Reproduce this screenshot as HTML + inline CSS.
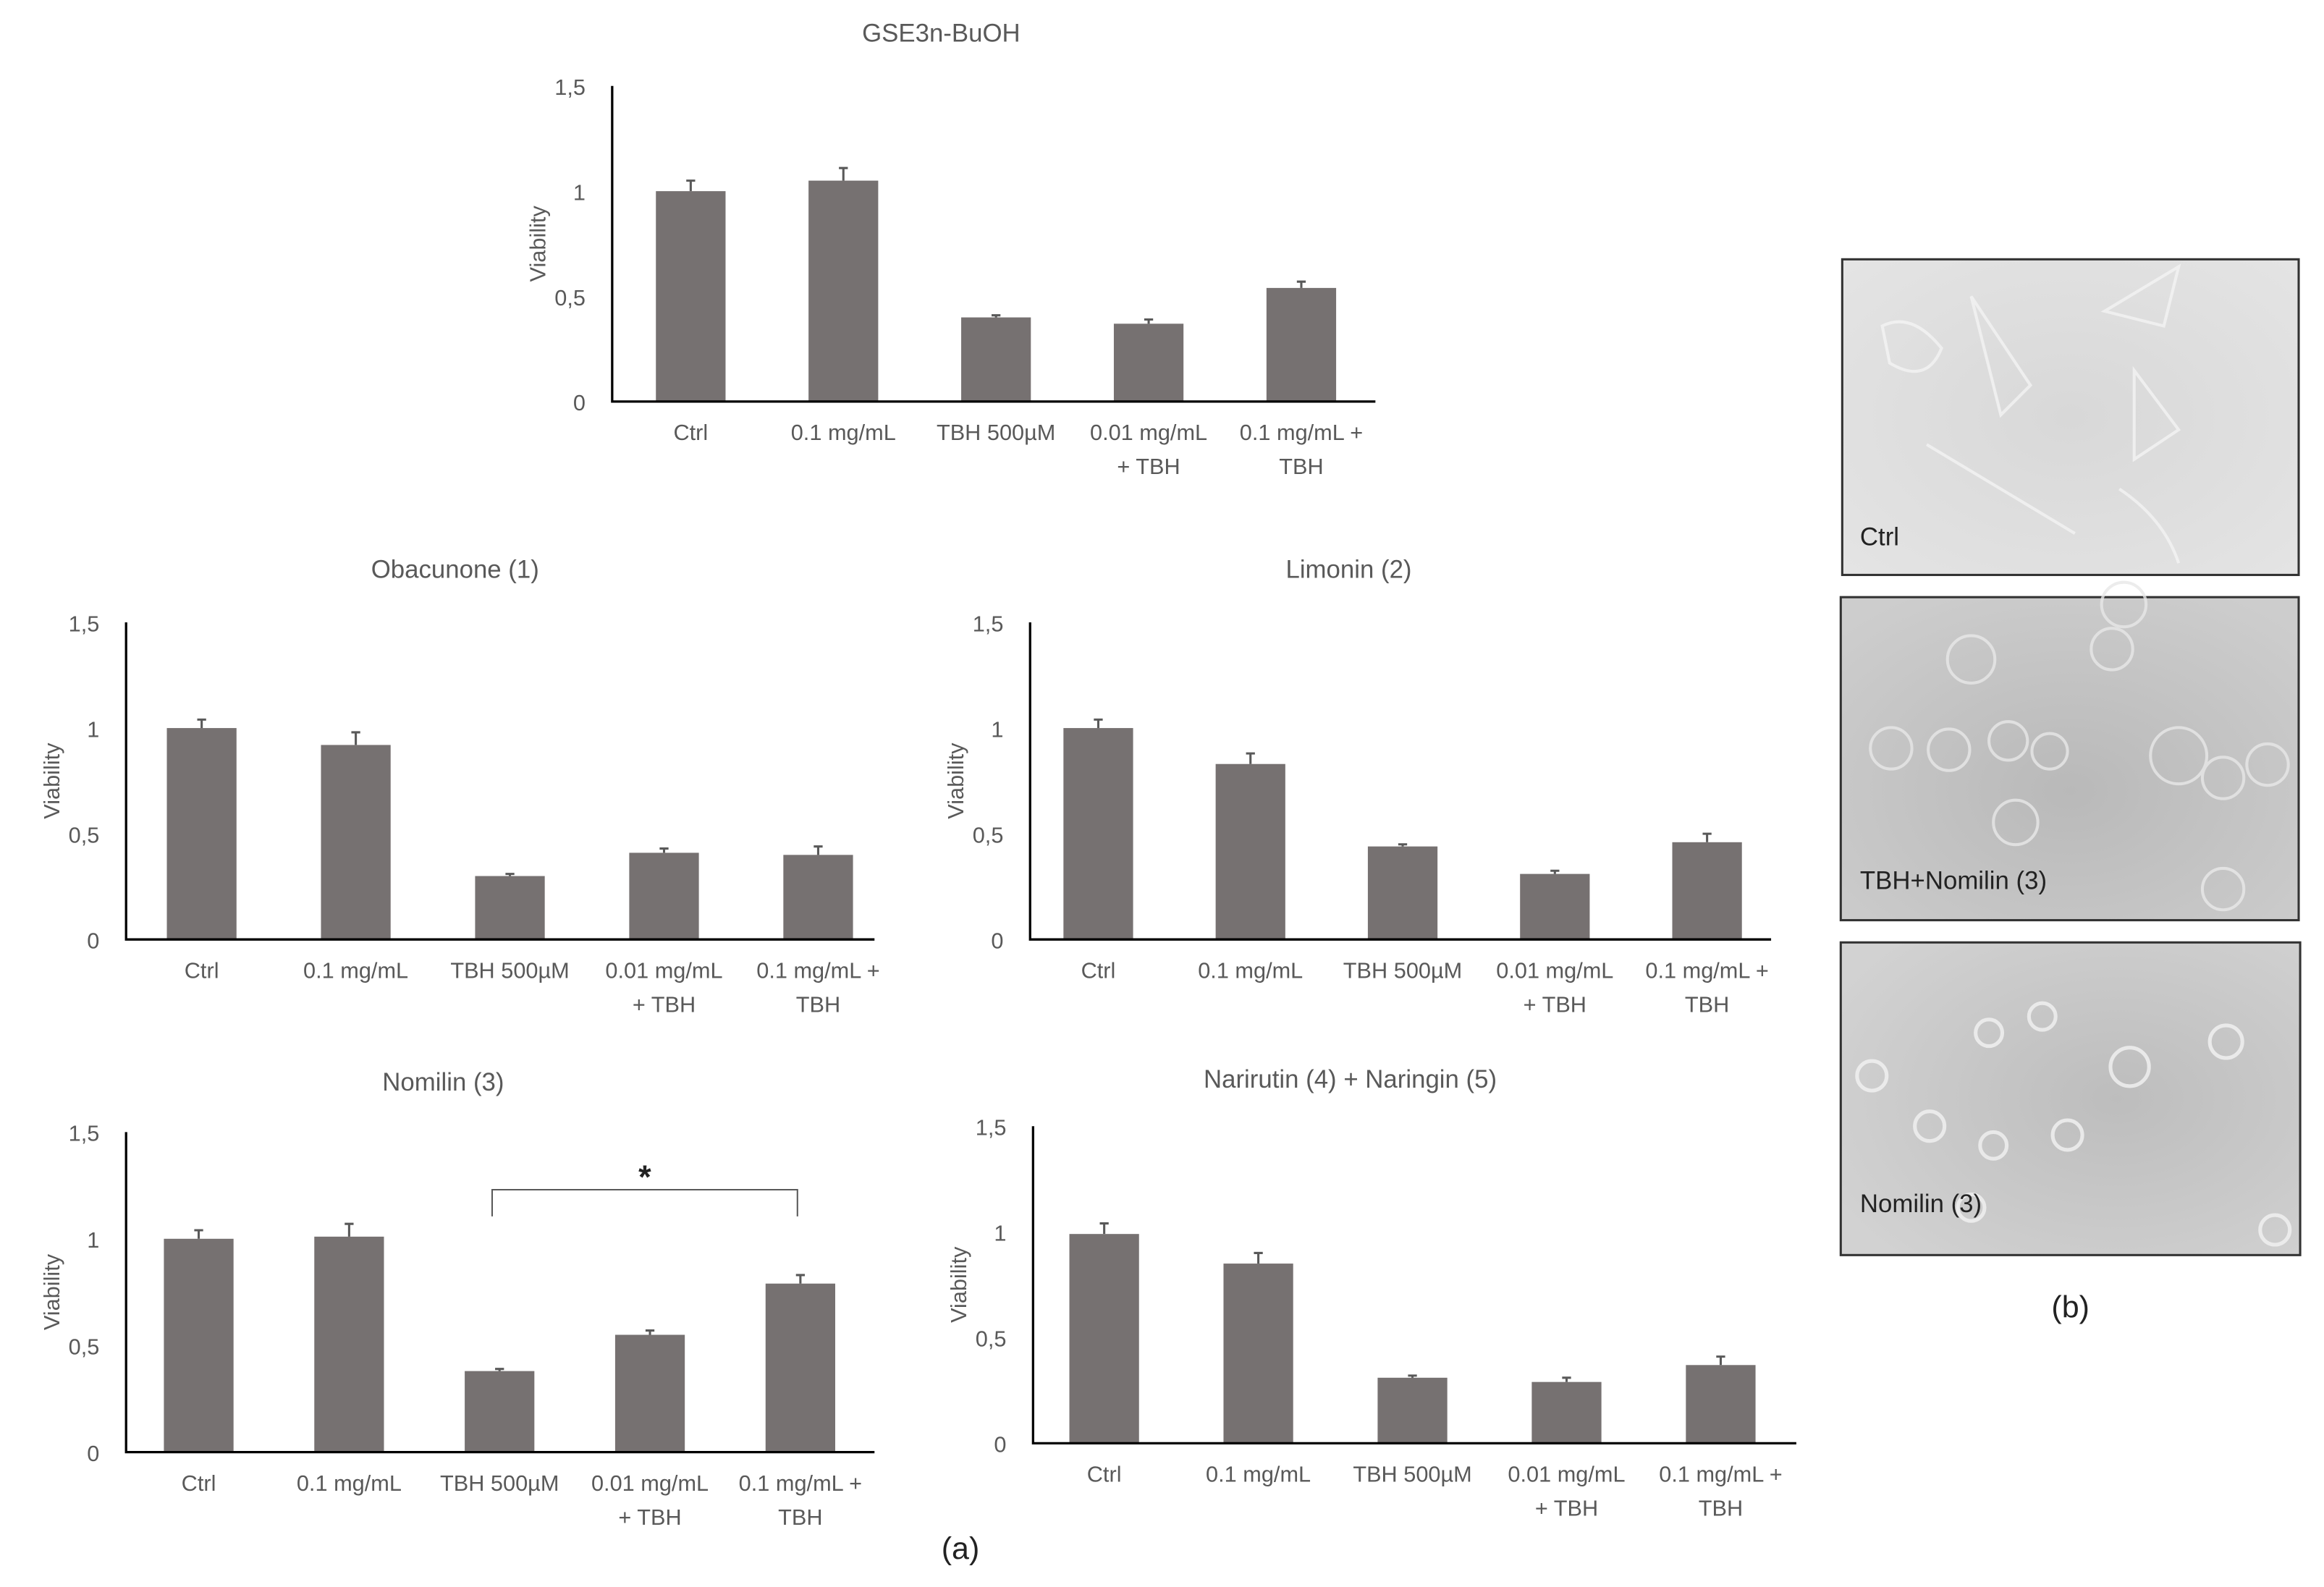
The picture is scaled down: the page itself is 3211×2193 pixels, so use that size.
<!DOCTYPE html>
<html><head><meta charset="utf-8">
<style>
html,body{margin:0;padding:0;background:#fff;}
svg{display:block;}
text{font-family:"Liberation Sans",sans-serif;}
</style></head>
<body>
<svg id="fig" width="3211" height="2193" viewBox="0 0 1568 1071" xmlns="http://www.w3.org/2000/svg">
  <defs>
    <radialGradient id="g1" cx="0.5" cy="0.5" r="0.7"><stop offset="0" stop-color="#d8d8d8"/><stop offset="1" stop-color="#e4e4e4"/></radialGradient>
    <radialGradient id="g2" cx="0.5" cy="0.6" r="0.7"><stop offset="0" stop-color="#b9b9b9"/><stop offset="1" stop-color="#cdcdcd"/></radialGradient>
    <radialGradient id="g3" cx="0.6" cy="0.5" r="0.7"><stop offset="0" stop-color="#bdbdbd"/><stop offset="1" stop-color="#d2d2d2"/></radialGradient>
  </defs>
  <g id="charts"></g>
  <text x="648" y="1052" text-anchor="middle" font-size="21" fill="#222">(a)</text>
  <g>
    <rect x="1243" y="175" width="308" height="213" fill="url(#g1)" stroke="#333" stroke-width="1.5"/>
    <g fill="none" stroke="#f4f4f4" stroke-width="2" opacity="0.8">
      <path d="M1270 220 q20 -10 40 15 q-10 25 -35 10z"/><path d="M1330 200 l40 60 l-20 20z"/>
      <path d="M1420 210 l50 -30 l-10 40z"/><path d="M1300 300 l100 60"/><path d="M1440 250 l30 40 l-30 20z"/>
      <path d="M1430 330 q30 20 40 50"/>
    </g>
    <text x="1255" y="368" font-size="17" fill="#222">Ctrl</text>
  </g>
  <g>
    <rect x="1242" y="403" width="309" height="218" fill="url(#g2)" stroke="#333" stroke-width="1.5"/>
    <g fill="none" stroke="#e8e8e8" stroke-width="2" opacity="0.8">
      <circle cx="1276" cy="505" r="14"/><circle cx="1315" cy="506" r="14"/><circle cx="1355" cy="500" r="13"/><circle cx="1383" cy="507" r="12"/>
      <circle cx="1330" cy="445" r="16"/><circle cx="1425" cy="438" r="14"/><circle cx="1470" cy="510" r="19"/><circle cx="1500" cy="525" r="14"/>
      <circle cx="1360" cy="555" r="15"/><circle cx="1530" cy="516" r="14"/><circle cx="1500" cy="600" r="14"/><circle cx="1433" cy="408" r="15"/>
    </g>
    <text x="1255" y="600" font-size="17" fill="#222">TBH+Nomilin (3)</text>
  </g>
  <g>
    <rect x="1242" y="636" width="310" height="211" fill="url(#g3)" stroke="#333" stroke-width="1.5"/>
    <g fill="none" stroke="#f0f0f0" stroke-width="2.5" opacity="0.85">
      <circle cx="1342" cy="697" r="9"/><circle cx="1378" cy="686" r="9"/><circle cx="1263" cy="726" r="10"/><circle cx="1345" cy="773" r="9"/>
      <circle cx="1437" cy="720" r="13"/><circle cx="1502" cy="703" r="11"/><circle cx="1302" cy="760" r="10"/><circle cx="1395" cy="766" r="10"/>
      <circle cx="1330" cy="815" r="9"/><circle cx="1535" cy="830" r="10"/>
    </g>
    <text x="1255" y="818" font-size="17" fill="#222">Nomilin (3)</text>
  </g>
  <text x="1397" y="889" text-anchor="middle" font-size="21" fill="#222">(b)</text>
</svg>
<script>
const categories = [["Ctrl"],["0.1 mg/mL"],["TBH 500µM"],["0.01 mg/mL","+ TBH"],["0.1 mg/mL +","TBH"]];
const yTicks = [0, 0.5, 1, 1.5];
const yTickLabels = ["0","0,5","1","1,5"];
const gseValues = [1.00, 1.05, 0.40, 0.37, 0.54];
const gseErrors = [0.05, 0.06, 0.01, 0.02, 0.03];
const obacunoneValues = [1.00, 0.92, 0.30, 0.41, 0.40];
const obacunoneErrors = [0.04, 0.06, 0.01, 0.02, 0.04];
const limoninValues = [1.00, 0.83, 0.44, 0.31, 0.46];
const limoninErrors = [0.04, 0.05, 0.01, 0.015, 0.04];
const nomilinValues = [1.00, 1.01, 0.38, 0.55, 0.79];
const nomilinErrors = [0.04, 0.06, 0.01, 0.02, 0.04];
const narirutinValues = [0.99, 0.85, 0.31, 0.29, 0.37];
const narirutinErrors = [0.05, 0.05, 0.01, 0.02, 0.04];

const NS = "http://www.w3.org/2000/svg";
const root = document.getElementById("charts");
function mk(tag, attrs, parent){const e=document.createElementNS(NS,tag);for(const k in attrs)e.setAttribute(k,attrs[k]);parent.appendChild(e);return e;}

const layouts = [
  {name:"gse3n-buoh", title:"GSE3n-BuOH", tx:635, ty:28, x0:413, x1:928, yTop:58, yZero:271, c0:466, step:103, vals:gseValues, errs:gseErrors},
  {name:"obacunone", title:"Obacunone (1)", tx:307, ty:390, x0:85, x1:590, yTop:420, yZero:634, c0:136, step:104, vals:obacunoneValues, errs:obacunoneErrors},
  {name:"limonin", title:"Limonin (2)", tx:910, ty:390, x0:695, x1:1195, yTop:420, yZero:634, c0:741, step:102.7, vals:limoninValues, errs:limoninErrors},
  {name:"nomilin", title:"Nomilin (3)", tx:299, ty:736, x0:85, x1:590, yTop:764, yZero:980, c0:134, step:101.5, vals:nomilinValues, errs:nomilinErrors, sig:[2,4]},
  {name:"narirutin-naringin", title:"Narirutin (4) + Naringin (5)", tx:911, ty:734, x0:697, x1:1212, yTop:760, yZero:974, c0:745, step:104, vals:narirutinValues, errs:narirutinErrors}
];

layouts.forEach(L=>{
  const g = mk("g",{},root);
  
  
  const y = v => L.yZero - v/1.5*(L.yZero-L.yTop);
  const x = i => L.c0 + i*L.step;
  const t = mk("text",{x:L.tx,y:L.ty,"text-anchor":"middle","font-size":17,fill:"#595959"},g);
  t.textContent = L.title;
  
  
  yTicks.forEach((v,i)=>{
    const tl = mk("text",{x:L.x0-18,y:y(v)+6,"text-anchor":"end","font-size":15,fill:"#595959"},g);
    tl.textContent = yTickLabels[i];
    
    
  });
  const yl = mk("text",{x:0,y:0,"text-anchor":"middle","font-size":15,fill:"#595959",transform:`translate(${L.x0-45},${(L.yTop+L.yZero)/2}) rotate(-90)`},g);
  yl.textContent = "Viability";
  
  
  L.vals.forEach((v,i)=>{
    const bw = 47;
    const r = mk("rect",{x:x(i)-bw/2,y:y(v),width:bw,height:L.yZero-y(v),fill:"#767171"},g);
    
    
    const top = y(v+L.errs[i]);
    const eb = mk("path",{d:`M${x(i)} ${y(v)} V${top} M${x(i)-3} ${top} H${x(i)+3}`,stroke:"#595959","stroke-width":1.5,fill:"none"},g);
    
    
    categories[i].forEach((line,j)=>{
      const cl = mk("text",{x:x(i),y:L.yZero+26+j*23,"text-anchor":"middle","font-size":15,fill:"#595959"},g);
      cl.textContent = line;
      
      
    });
  });
  const ax = mk("path",{d:`M${L.x0} ${L.yTop} V${L.yZero} H${L.x1}`,stroke:"#000","stroke-width":1.6,fill:"none"},g);
  
  
  if(L.sig){
    const a=x(L.sig[0])-5, b=x(L.sig[1])-2, by=y(1.23);
    const br = mk("path",{d:`M${a} ${by+18} V${by} H${b} V${by+18}`,stroke:"#595959","stroke-width":1,fill:"none"},g);
    
    
    const st = mk("text",{x:(a+b)/2,y:by-1,"text-anchor":"middle","font-size":22,"font-weight":"bold",fill:"#222"},g);
    st.textContent = "*";
    
    
  }
});
</script>
</body></html>
